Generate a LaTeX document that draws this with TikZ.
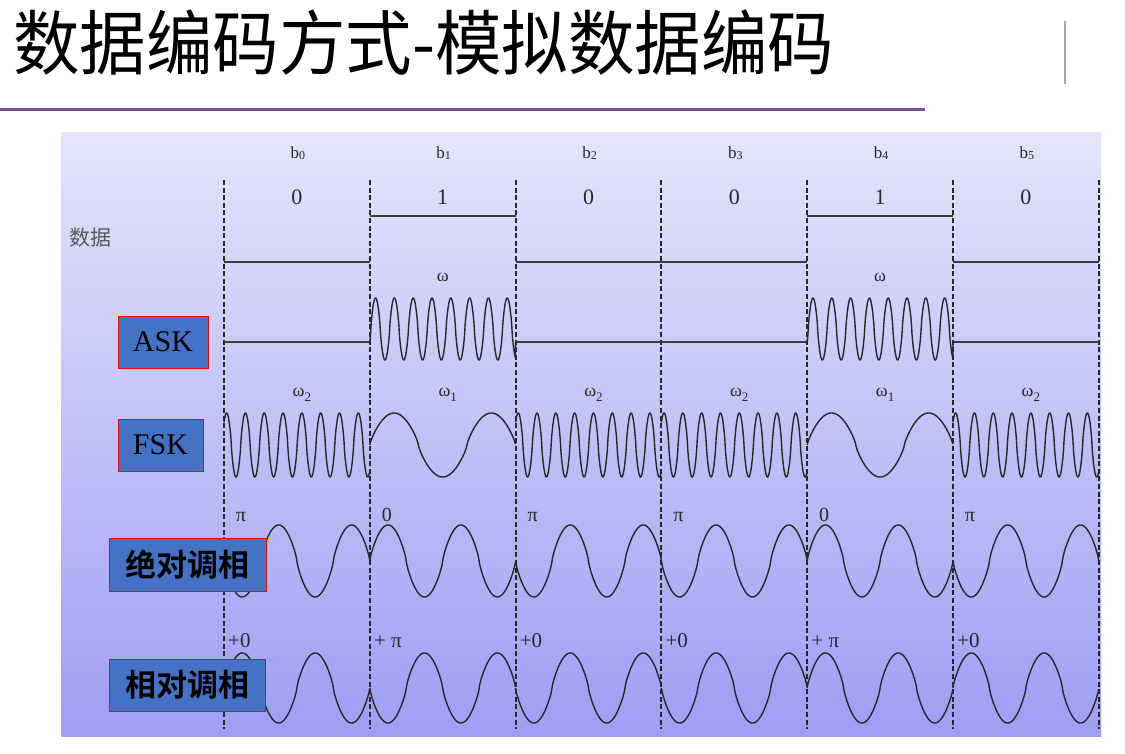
\documentclass[tikz,border=0pt]{standalone}
\usepackage{fontspec}
\setmainfont{Liberation Serif}
\newfontfamily\cjk{Noto Sans CJK SC}
\newfontfamily\cjkbold{Noto Sans CJK SC Bold}
\definecolor{bgtop}{RGB}{228,228,251}
\definecolor{bgbot}{RGB}{158,158,244}
\definecolor{boxblue}{RGB}{68,114,196}
\definecolor{rulepurple}{RGB}{118,78,156}
\definecolor{ink}{RGB}{40,40,40}
\tikzset{
  declare function={sq(\t)=sign(sin(\t))*(abs(sin(\t))+0.00001)^0.78;},
  wave/.style={draw=ink, line width=1.4pt, line join=round},
  level/.style={draw=ink!90, line width=1.3pt},
  bitline/.style={draw=ink, line width=1.8pt, dash pattern=on 5pt off 2.6pt},
  lab/.style={inner sep=0pt, text=ink},
  modbox/.style={draw=red, line width=0.9pt, fill=boxblue, inner sep=0pt, text=black},
}
\begin{document}
\begin{tikzpicture}[x=1pt,y=-1pt]
\useasboundingbox (0,0) rectangle (1125,754);
% title
\node[anchor=west, inner sep=0pt] (title) at (13,43) {\scalebox{1}[1.06]{\fontsize{66.5pt}{70pt}\selectfont\cjk 数据编码方式-模拟数据编码}};
\draw[draw=rulepurple, line width=3pt] (0,110) -- (925,110);
\draw[draw=gray!70, line width=1.5pt] (1065,21) -- (1065,84);
% panel
\shade[top color=bgtop, bottom color=bgbot] (61,133) rectangle (1101,736);
\def\bw{145.8}
% dashed boundaries
\foreach \i in {0,...,6} {
  \coordinate (t\i) at ({round(224+\bw*\i)},180);
  \coordinate (u\i) at ({round(224+\bw*\i)},729);
  \draw[bitline] (t\i) -- (u\i);
}
% bit names and values
\foreach \i/\v in {0/0,1/1,2/0,3/0,4/1,5/0} {
  \node[lab, font=\fontsize{17pt}{18pt}\selectfont] (b\i) at ({224+\bw*\i+\bw/2+1},153) {b\raisebox{-1pt}{\fontsize{12pt}{12pt}\selectfont\i}};
  \node[lab, font=\fontsize{22pt}{24pt}\selectfont] (v\i) at ({224+\bw*\i+\bw/2},197) {\v};
}
\node[lab, anchor=west, text=black!65, font=\fontsize{21pt}{22pt}\selectfont\cjk] (datalab) at (69,238) {数据};
% data levels
\foreach \i/\y in {0/262,1/216,2/262,3/262,4/216,5/262} {
  \draw[level] ({224+\bw*\i},\y) -- ({224+\bw*(\i+1)},\y);
}
% ASK
\foreach \i in {0,2,3,5} {
  \draw[level] ({224+\bw*\i},342) -- ({224+\bw*(\i+1)},342);
}
\foreach \i in {1,4} {
  \draw[wave] ({224+\bw*\i},342) -- plot[domain=0:1, samples=400] ({224+\bw*\i+\bw*\x},{329-31*sq(2790*\x-20)}) -- ({224+\bw*(\i+1)},342);
  \node[lab, font=\fontsize{18pt}{18pt}\selectfont] (om\i) at ({224+\bw*\i+\bw/2},277) {ω};
}
\node[modbox, minimum width=90pt, minimum height=52pt, font=\fontsize{30pt}{32pt}\selectfont] (ask) at (163,342) {ASK};
% FSK
\foreach \i in {0,2,3,5} {
  \draw[wave] plot[domain=0:1, samples=400] ({224+\bw*\i+\bw*\x},{445-32*sq(2790*\x+40)});
  \node[lab, anchor=base, font=\fontsize{18pt}{18pt}\selectfont] (fw\i) at ({224+\bw*\i+\bw/2+5},396) {ω\raisebox{-5pt}{\fontsize{13pt}{13pt}\selectfont 2}};
}
\foreach \i in {1,4} {
  \draw[wave] plot[domain=0:1, samples=200] ({224+\bw*\i+\bw*\x},{445-32*sq(540*\x)});
  \node[lab, anchor=base, font=\fontsize{18pt}{18pt}\selectfont] (fw\i) at ({224+\bw*\i+\bw/2+5},396) {ω\raisebox{-5pt}{\fontsize{13pt}{13pt}\selectfont 1}};
}
\node[modbox, minimum width=85pt, minimum height=52pt, font=\fontsize{30pt}{32pt}\selectfont] (fsk) at (160.5,445) {FSK};
% PSK (absolute)
\foreach \i/\p/\t in {0/-1/π,1/1/0,2/-1/π,3/-1/π,4/1/0,5/-1/π} {
  \draw[wave] plot[domain=0:1, samples=200] ({224+\bw*\i+\bw*\x},{561-36*\p*sq(720*\x)});
  \node[lab, anchor=base, font=\fontsize{20pt}{20pt}\selectfont] (pl\i) at ({224+\bw*\i+17},521) {\t};
}
\node[modbox, minimum width=157pt, minimum height=53pt, font=\fontsize{31pt}{33pt}\selectfont\cjkbold] (psk) at (187.5,564.5) {绝对调相};
% DPSK (relative)
\foreach \i/\p/\t in {0/1/+0,1/-1/+ π,2/-1/+0,3/-1/+0,4/1/+ π,5/1/+0} {
  \draw[wave] plot[domain=0:1, samples=200] ({224+\bw*\i+\bw*\x},{688-35*\p*sq(720*\x)});
  \node[lab, anchor=base west, font=\fontsize{21pt}{22pt}\selectfont] (dl\i) at ({224+\bw*\i+4},647) {\t};
}
\node[modbox, minimum width=156pt, minimum height=52pt, font=\fontsize{31pt}{33pt}\selectfont\cjkbold] (dpsk) at (187,685) {相对调相};
\end{tikzpicture}
\end{document}
